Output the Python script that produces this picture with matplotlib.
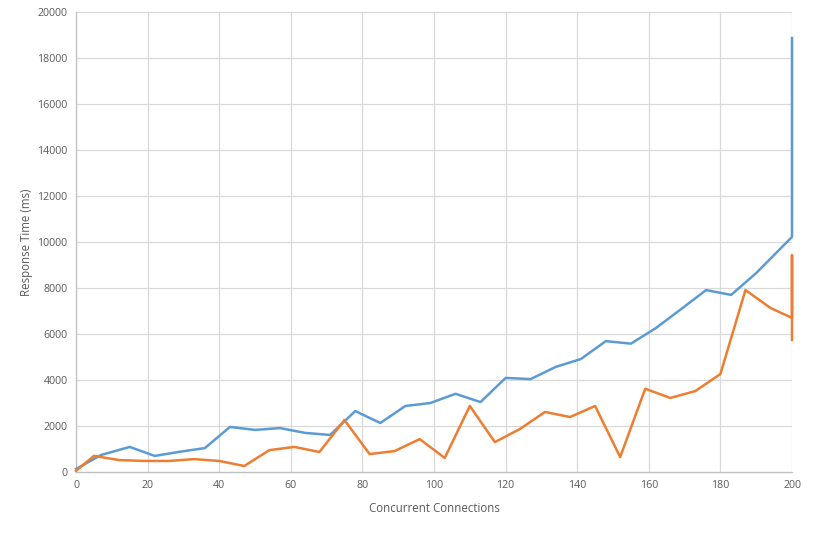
import matplotlib
matplotlib.use("Agg")
import matplotlib.pyplot as plt

plt.rcParams['font.family'] = ['Open Sans', 'DejaVu Sans']

# Series A (blue)
blue_x = [0, 7, 15, 22, 29, 36, 43, 50, 57, 64, 71, 78, 85, 92, 99, 106, 113, 120,
          127, 134, 141, 148, 155, 162, 169, 176, 183, 190, 200, 200]
blue_y = [130, 740, 1090, 700, 880, 1040, 1960, 1830, 1910, 1700, 1610, 2650, 2130,
          2870, 3000, 3400, 3040, 4090, 4040, 4570, 4910, 5690, 5580, 6260, 7080,
          7910, 7700, 8650, 10220, 18870]

# Series B (orange)
orange_x = [0, 5, 12, 19, 26, 33, 40, 47, 54, 61, 68, 75, 82, 89, 96, 103, 110, 117,
            124, 131, 138, 145, 152, 159, 166, 173, 180, 187, 194, 200, 200, 200]
orange_y = [50, 700, 520, 480, 480, 560, 480, 260, 950, 1090, 870, 2260, 780, 910,
            1430, 610, 2870, 1300, 1870, 2610, 2390, 2870, 650, 3620, 3220, 3520,
            4260, 7910, 7130, 6700, 9430, 5740]

x_ticks = list(range(0, 201, 20))
y_ticks = list(range(0, 20001, 2000))

fig = plt.figure(figsize=(8.15, 5.44), dpi=100)
ax = fig.add_axes([76/815, 72/544, (792-76)/815, (472-12)/544])

ax.plot(blue_x, blue_y, color='#5B9BD5', lw=1.8, solid_joinstyle='round',
        zorder=3, clip_on=False)
ax.plot(orange_x, orange_y, color='#ED7D31', lw=1.8, solid_joinstyle='round',
        zorder=3, clip_on=False)

ax.set_xlim(0, 200)
ax.set_ylim(0, 20000)
ax.set_xticks(x_ticks)
ax.set_yticks(y_ticks)
ax.grid(True, color='#D9D9D9', lw=0.9)
ax.set_axisbelow(True)
for s in ['top', 'right']:
    ax.spines[s].set_visible(False)
for s in ['left', 'bottom']:
    ax.spines[s].set_color('#BFBFBF')
    ax.spines[s].set_linewidth(0.9)
ax.tick_params(length=0, labelsize=7.7, colors='#595959', pad=6)
ax.set_xlabel('Concurrent Connections', fontsize=8.3, color='#595959', labelpad=8)
ax.set_ylabel('Response Time (ms)', fontsize=8.3, color='#595959', labelpad=3)

fig.savefig('out.png', dpi=100)
